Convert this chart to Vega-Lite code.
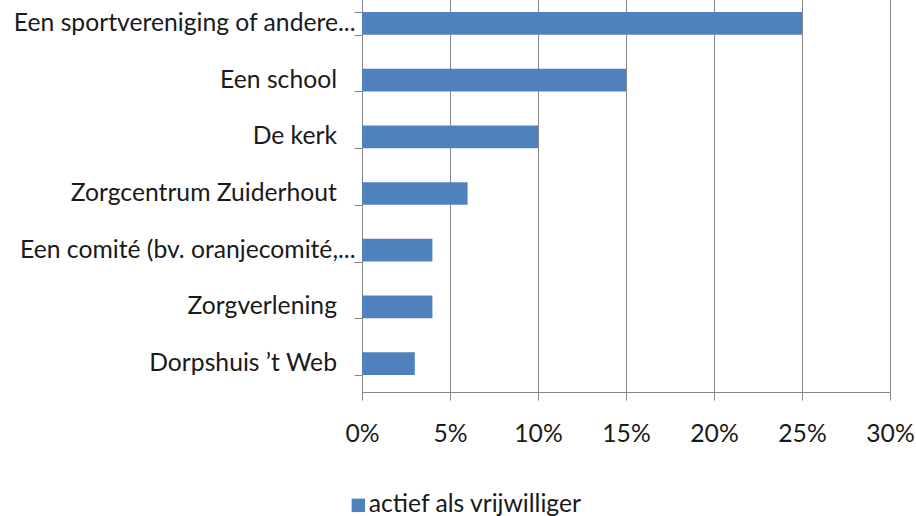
{
  "$schema": "https://vega.github.io/schema/vega-lite/v6.json",
  "autosize": {"type": "none"},
  "width": 528,
  "height": 397,
  "padding": {"left": 362, "top": -5, "right": 26, "bottom": 124},
  "background": "white",
  "config": {
    "view": {"stroke": null},
    "font": "Lato",
    "axis": {"labelFont": "Lato", "labelColor": "#1a1a1a", "labelFontSize": 24.7}
  },
  "data": {
    "values": [
      {"categorie": "Een sportvereniging of andere...", "pct": 25, "reeks": "actief als vrijwilliger"},
      {"categorie": "Een school", "pct": 15, "reeks": "actief als vrijwilliger"},
      {"categorie": "De kerk", "pct": 10, "reeks": "actief als vrijwilliger"},
      {"categorie": "Zorgcentrum Zuiderhout", "pct": 6, "reeks": "actief als vrijwilliger"},
      {"categorie": "Een comité (bv. oranjecomité,...", "pct": 4, "reeks": "actief als vrijwilliger"},
      {"categorie": "Zorgverlening", "pct": 4, "reeks": "actief als vrijwilliger"},
      {"categorie": "Dorpshuis ’t Web", "pct": 3, "reeks": "actief als vrijwilliger"}
    ]
  },
  "mark": {"type": "bar", "color": "#4f81bd"},
  "encoding": {
    "y": {
      "field": "categorie",
      "type": "nominal",
      "sort": null,
      "title": null,
      "scale": {"paddingInner": 0.6, "paddingOuter": 0.3},
      "axis": {
        "domainColor": "#868686",
        "tickColor": "#868686",
        "tickSize": 8,
        "tickBand": "extent",
        "labelPadding": -1,
        "labelLimit": 400,
        "labelExpr": "indexof(datum.label, '...') >= 0 ? datum.label : datum.label + '\u2003\u200b'"
      }
    },
    "x": {
      "field": "pct",
      "type": "quantitative",
      "title": null,
      "scale": {"domain": [0, 30]},
      "axis": {
        "values": [0, 5, 10, 15, 20, 25, 30],
        "labelExpr": "datum.value + '%'",
        "labelFlush": false,
        "labelOverlap": false,
        "domainColor": "#868686",
        "tickColor": "#868686",
        "gridColor": "#868686",
        "grid": true,
        "tickSize": 8,
        "labelPadding": 21
      }
    },
    "color": {
      "field": "reeks",
      "type": "nominal",
      "scale": {"range": ["#4f81bd"]},
      "legend": {
        "title": null,
        "orient": "none",
        "legendX": -16,
        "legendY": 498,
        "symbolType": "square",
        "symbolSize": 180,
        "symbolStrokeWidth": 0,
        "labelFontSize": 24.7,
        "labelLimit": 400,
        "labelColor": "#1a1a1a",
        "labelOffset": -2
      }
    }
  }
}
